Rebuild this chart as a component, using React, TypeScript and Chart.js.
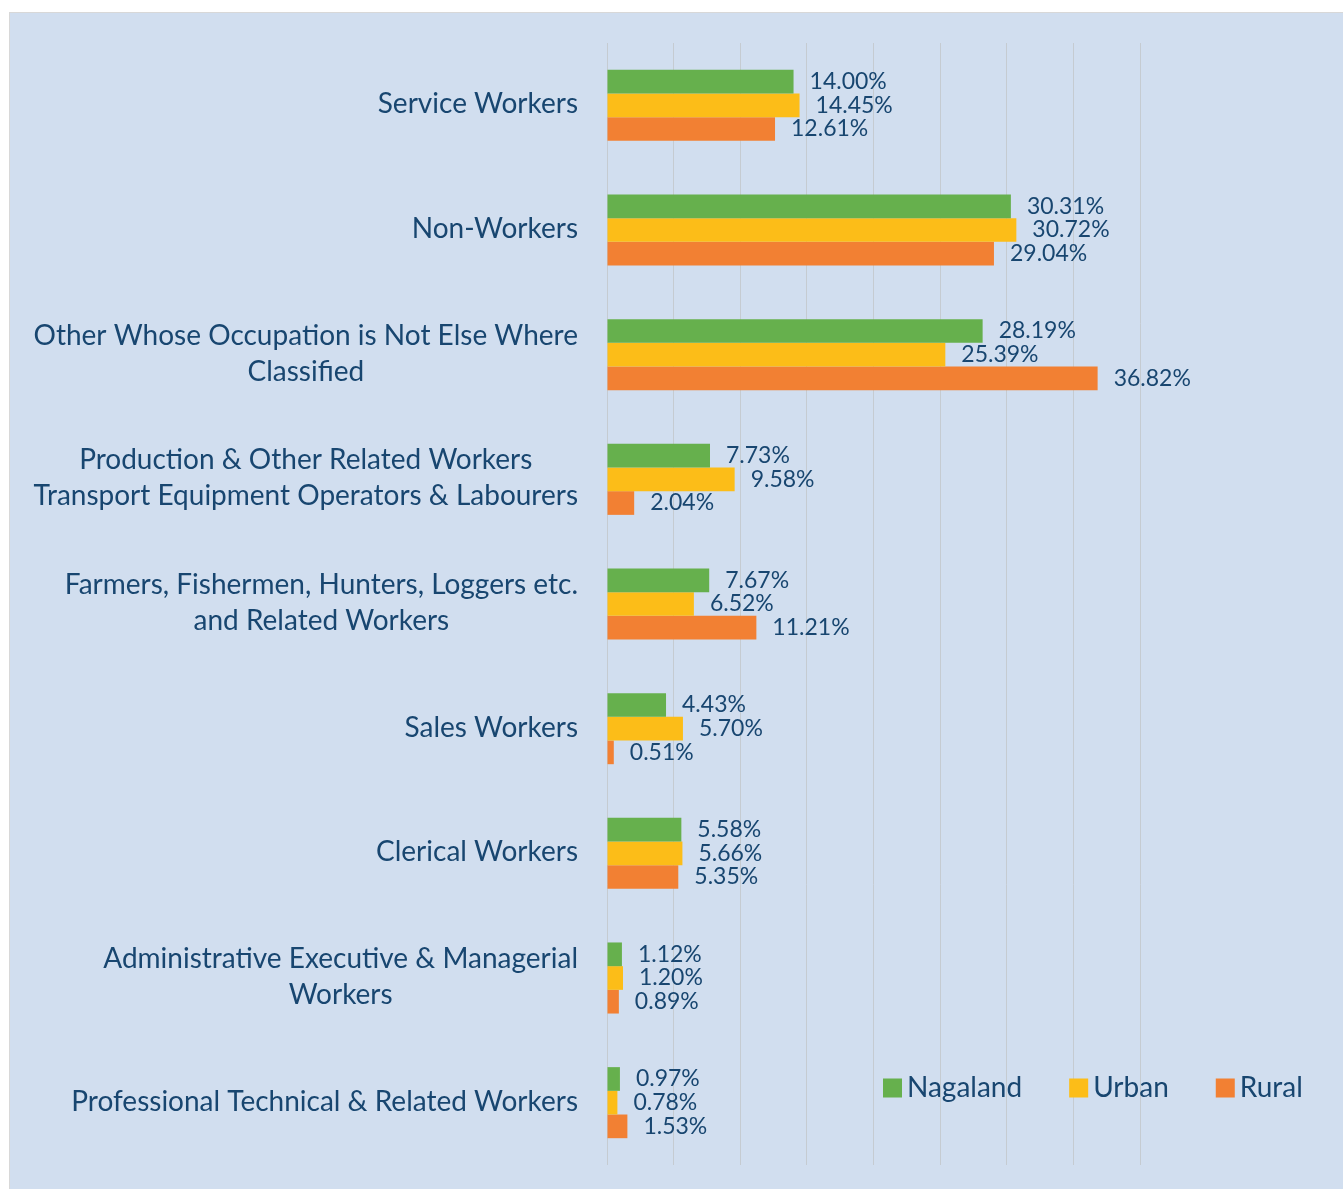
import React, { useEffect, useRef } from "react";
import { Chart, registerables } from "chart.js";

Chart.register(...registerables);

const categories: string[][] = [
  ["Service Workers"],
  ["Non-Workers"],
  ["Other Whose Occupation is Not Else Where", "Classified"],
  ["Production & Other Related Workers", "Transport Equipment Operators & Labourers"],
  ["Farmers, Fishermen, Hunters, Loggers etc.", "and Related Workers"],
  ["Sales Workers"],
  ["Clerical Workers"],
  ["Administrative Executive & Managerial", "Workers"],
  ["Professional Technical & Related Workers"],
];

const nagaland = [14.0, 30.31, 28.19, 7.73, 7.67, 4.43, 5.58, 1.12, 0.97];
const urban = [14.45, 30.72, 25.39, 9.58, 6.52, 5.7, 5.66, 1.2, 0.78];
const rural = [12.61, 29.04, 36.82, 2.04, 11.21, 0.51, 5.35, 0.89, 1.53];

const seriesNames = ["Nagaland", "Urban", "Rural"];
const seriesColors = ["#66b04d", "#fcbd18", "#f28033"];

const TEXT = "#184670";
const FONT = "Lato, 'Open Sans', sans-serif";

const bgPlugin = {
  id: "bgFill",
  beforeDraw(chart: any) {
    const { ctx, width, height } = chart;
    ctx.save();
    ctx.fillStyle = "#d1deef";
    ctx.fillRect(0, 0, width, height);
    ctx.restore();
  },
};

const labelsPlugin = {
  id: "catLabels",
  afterDraw(chart: any) {
    const { ctx, chartArea } = chart;
    const yScale = chart.scales.y;
    ctx.save();
    ctx.font = `28px ${FONT}`;
    ctx.fillStyle = TEXT;
    ctx.textBaseline = "middle";
    ctx.textAlign = "center";
    const lh = 36;
    const right = chartArea.left - 29;
    (chart.data.labels as string[][]).forEach((lines, i) => {
      const cy = yScale.getPixelForValue(i);
      const w = Math.max(...lines.map((l) => ctx.measureText(l).width));
      const cx = right - w / 2;
      const startY = cy - ((lines.length - 1) * lh) / 2 - 1;
      lines.forEach((l, j) => ctx.fillText(l, cx, startY + j * lh));
    });
    ctx.restore();
  },
};

const valuePlugin = {
  id: "valueLabels",
  afterDatasetsDraw(chart: any) {
    const { ctx } = chart;
    ctx.save();
    ctx.font = `23px ${FONT}`;
    ctx.fillStyle = TEXT;
    ctx.textBaseline = "middle";
    ctx.textAlign = "left";
    chart.data.datasets.forEach((ds: any, di: number) => {
      const meta = chart.getDatasetMeta(di);
      meta.data.forEach((bar: any, i: number) => {
        const v = ds.data[i] as number;
        ctx.fillText(v.toFixed(2) + "%", bar.x + 16, bar.y);
      });
    });
    ctx.restore();
  },
};

const legendPlugin = {
  id: "customLegend",
  afterDraw(chart: any) {
    const { ctx, chartArea } = chart;
    ctx.save();
    ctx.font = `28px ${FONT}`;
    ctx.textBaseline = "middle";
    ctx.textAlign = "left";
    let x = chartArea.right - 257;
    const cy = chartArea.bottom - 77;
    const sq = 19;
    chart.data.datasets.forEach((ds: any) => {
      ctx.fillStyle = ds.backgroundColor;
      ctx.fillRect(x, cy - sq / 2, sq, sq);
      x += sq + 5;
      ctx.fillStyle = TEXT;
      ctx.fillText(ds.label, x, cy);
      x += ctx.measureText(ds.label).width + 47;
    });
    ctx.restore();
  },
};

export default function App() {
  const ref = useRef<HTMLCanvasElement>(null);
  useEffect(() => {
    if (!ref.current) return;
    const chart = new Chart(ref.current, {
      type: "bar",
      data: {
        labels: categories as any,
        datasets: [nagaland, urban, rural].map((d, i) => ({
          label: seriesNames[i],
          data: d,
          backgroundColor: seriesColors[i],
          borderWidth: 0,
          barPercentage: 1,
          categoryPercentage: 0.57,
        })),
      },
      options: {
        indexAxis: "y",
        animation: false,
        responsive: true,
        maintainAspectRatio: false,
        layout: { padding: { left: 597, right: 203, top: 30, bottom: 24 } },
        plugins: { legend: { display: false }, tooltip: { enabled: false } },
        scales: {
          x: {
            min: 0,
            max: 40,
            ticks: { display: false, stepSize: 5 },
            grid: { color: "#c5cbd1", lineWidth: 1, drawTicks: false },
            border: { display: false },
          },
          y: { display: false },
        },
      },
      plugins: [bgPlugin, valuePlugin, labelsPlugin, legendPlugin],
    });
    return () => chart.destroy();
  }, []);
  return (
    <div
      style={{
        position: "absolute",
        left: 9,
        top: 12,
        width: 1334,
        height: 1177,
        boxSizing: "border-box",
        borderTop: "1px solid #d8d8d8",
        borderLeft: "1px solid #d8d8d8",
      }}
    >
      <canvas ref={ref} />
    </div>
  );
}
